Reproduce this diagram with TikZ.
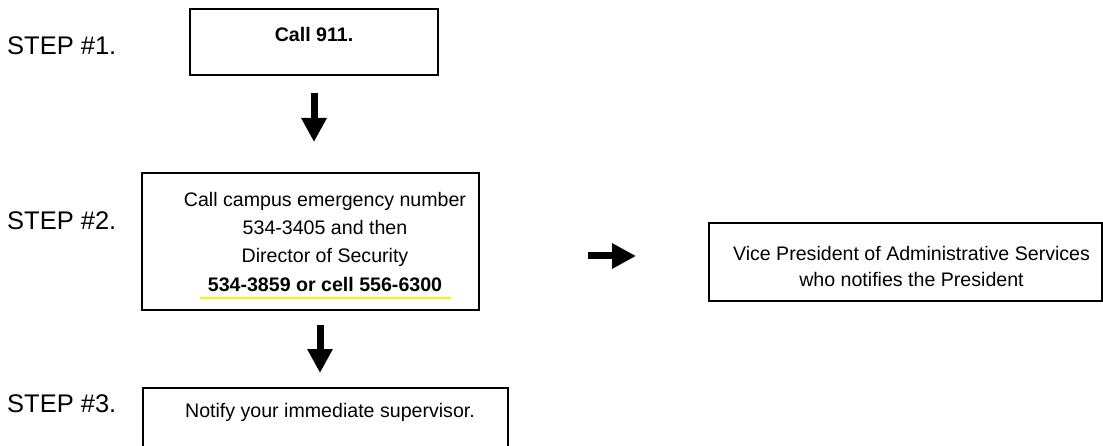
\documentclass[tikz,border=0pt]{standalone}
\usepackage{fontspec}
\setmainfont{Liberation Sans}
\usetikzlibrary{arrows.meta}
\definecolor{hiyellow}{RGB}{255,240,0}
\begin{document}
\begin{tikzpicture}[x=1pt,y=-1pt,
  box/.style={draw=black, line width=1.6pt, rectangle, inner sep=0pt, outer sep=0pt},
  txt/.style={font=\fontsize{19.6}{23}\selectfont, inner sep=0pt, anchor=base},
  steplabel/.style={font=\fontsize{25.5}{30}\selectfont, inner sep=0pt, anchor=base west},
  bigarrow/.style={line width=7pt, -{Triangle[width=24pt,length=24pt]}},
  underline/.style={draw=hiyellow, line width=2pt}]
\useasboundingbox (0,0) rectangle (1103,446);

% step labels
\node[steplabel] (s1) at (7,55) {STEP \#1.};
\node[steplabel] (s2) at (7,230) {STEP \#2.};
\node[steplabel] (s3) at (7,412) {STEP \#3.};

% boxes
\node[box, minimum width=248pt, minimum height=66pt] (b1) at (314,42) {};
\node[box, minimum width=337pt, minimum height=137pt] (b2) at (310.5,241.5) {};
\node[box, minimum width=365pt, minimum height=72pt] (b3) at (325.5,424) {};
\node[box, minimum width=393pt, minimum height=78pt] (b4) at (905.5,262) {};

% texts
\node[txt] (t1) at (314,42) {\bfseries Call 911.};
\node[txt] (t2a) at (325,206.7) {Call campus emergency number};
\node[txt] (t2b) at (325,235) {534-3405 and then};
\node[txt] (t2c) at (325,263) {Director of Security};
\node[txt] (t2d) at (325,291.7) {\bfseries 534-3859 or cell 556-6300};
\node[txt] (t3) at (330,417) {Notify your immediate supervisor.};
\node[txt] (t4a) at (911.5,260.7) {Vice President of Administrative Services};
\node[txt] (t4b) at (911.5,286.7) {who notifies the President};

% yellow underline
\coordinate (u1) at (200,298);
\coordinate (u2) at (451,298);
\draw[underline] (u1) -- (u2);

% arrows
\draw[bigarrow] ([yshift=-18pt]b1.south) -- ([yshift=31pt]b1.south |- b2.north);
\draw[bigarrow] ([xshift=9.5pt,yshift=-15pt]b2.south) -- ([xshift=-5.5pt,yshift=15pt]b3.north);
\draw[bigarrow] ([xshift=109pt,yshift=-14.5pt]b2.east) -- ([xshift=-73pt,yshift=6pt]b4.west);
\end{tikzpicture}
\end{document}
